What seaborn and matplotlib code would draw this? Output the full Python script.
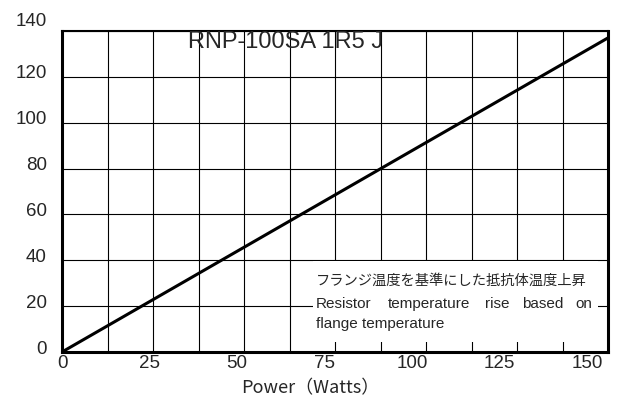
import matplotlib
matplotlib.use("Agg")
import matplotlib.pyplot as plt
import matplotlib.transforms as mtransforms
from matplotlib.patches import Rectangle
import numpy as np
import pandas as pd
import seaborn as sns

# values
power_w = [0, 156]
temp_rise = [0, 137]
x_ticks = [0, 25, 50, 75, 100, 125, 150]
y_ticks = [0, 20, 40, 60, 80, 100, 120, 140]
title = "RNP-100SA 1R5 J"
x_label = "Power（Watts）"
note_jp = "フランジ温度を基準にした抵抗体温度上昇"
note_en_words = ["Resistor", "temperature", "rise", "based", "on"]
note_en_2 = "flange temperature"

sns.set_style("white")
plt.rcParams["font.family"] = ["Liberation Sans", "DejaVu Sans"]
jp_family = ["Noto Sans CJK JP", "DejaVu Sans"]

df = pd.DataFrame({"power": power_w, "rise": temp_rise})

fig = plt.figure(figsize=(6.21, 4.03), dpi=100)
ax = fig.add_axes([62 / 621, 1 - 352 / 403, 546 / 621, 321 / 403])

sns.lineplot(data=df, x="power", y="rise", ax=ax, color="black",
             linewidth=2.2, zorder=5)

ax.set_xlim(0, power_w[-1])
ax.set_ylim(0, 140)

# grid: 12 vertical divisions, horizontal every 20
ax.set_xticks(x_ticks)
ax.set_xticks(np.linspace(0, power_w[-1], 13), minor=True)
ax.set_yticks(y_ticks)
ax.grid(False)
ax.grid(True, which="minor", axis="x", color="black", linewidth=0.8)
ax.grid(True, which="major", axis="y", color="black", linewidth=0.8)
ax.tick_params(which="both", length=0)
ax.tick_params(axis="x", labelsize=13.5, pad=2)
ax.tick_params(axis="y", labelsize=13.5, pad=11)

# y labels sit a little above their grid lines in the reference
for lbl, val in zip(ax.get_yticklabels(), y_ticks):
    dy = 11 if val == 140 else 5
    shift = mtransforms.ScaledTranslation(0, dy / 100, fig.dpi_scale_trans)
    lbl.set_transform(lbl.get_transform() + shift)

for side, lw in [("left", 2.2), ("bottom", 2.2), ("right", 2.2), ("top", 1.5)]:
    ax.spines[side].set_visible(True)
    ax.spines[side].set_color("black")
    ax.spines[side].set_linewidth(lw)

ax.set_xlabel(x_label, family=jp_family, fontsize=13, labelpad=0)
ax.xaxis.set_label_coords(0.454, -0.085)
ax.set_ylabel("")

ax.text(0.41, 0.965, title, transform=ax.transAxes, fontsize=17,
        ha="center", va="center", zorder=6)

# note box hides the grid below
ax.add_patch(Rectangle((0.460, 0.031), 0.522, 0.252, transform=ax.transAxes,
                       facecolor="white", edgecolor="none", zorder=3))
ax.text(0.465, 0.221, note_jp, transform=ax.transAxes, fontsize=10.3,
        family=jp_family, va="center", zorder=6)
word_x = [0.465, 0.597, 0.775, 0.842, 0.940]
for wx, w in zip(word_x, note_en_words):
    ax.text(wx, 0.150, w, transform=ax.transAxes, fontsize=11,
            va="center", zorder=6)
ax.text(0.465, 0.087, note_en_2, transform=ax.transAxes, fontsize=11,
        va="center", zorder=6)

fig.savefig("out.png", dpi=100)
